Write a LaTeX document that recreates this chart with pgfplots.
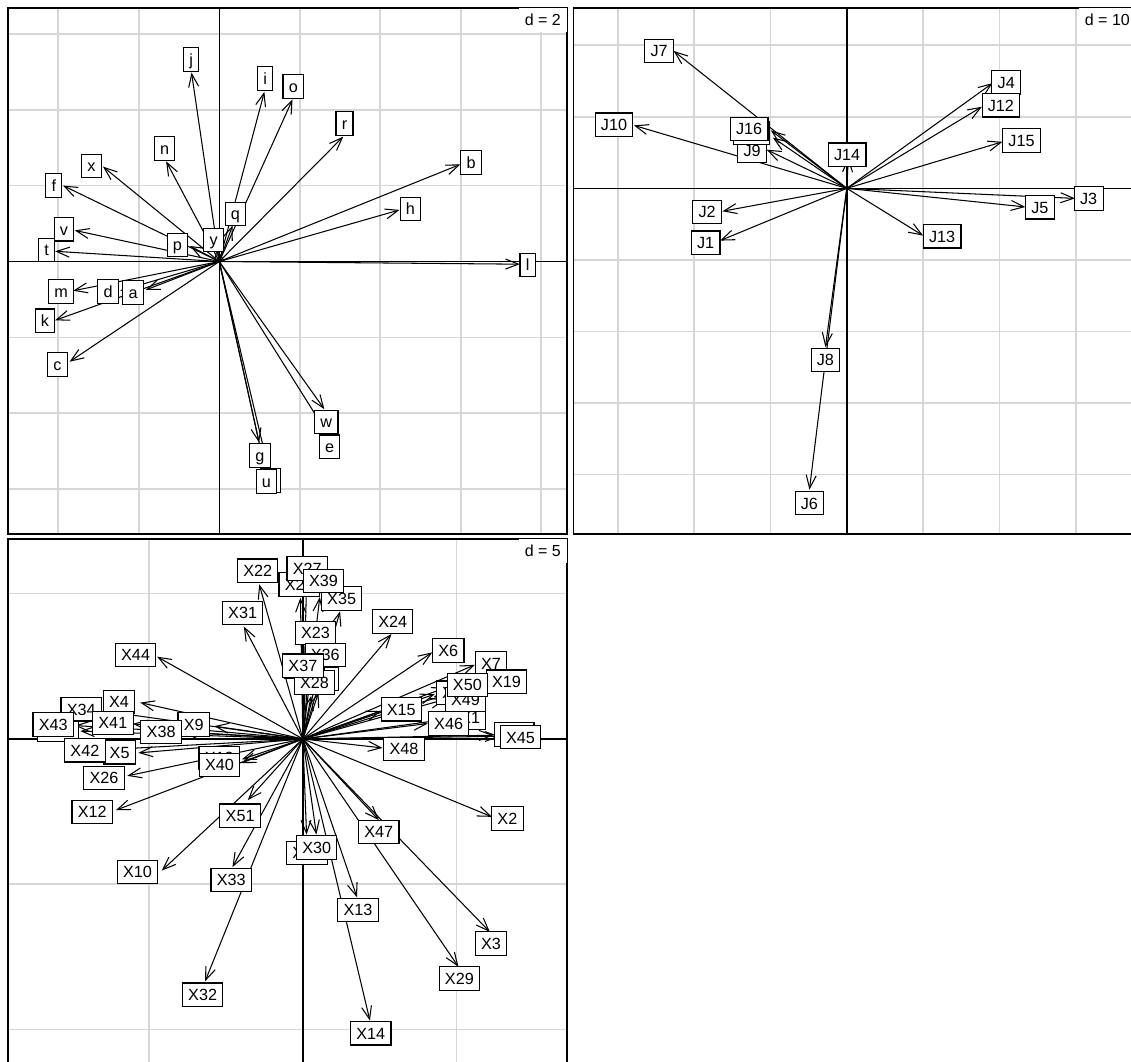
\documentclass[border=0pt]{standalone}
\usepackage{pgfplots}
\pgfplotsset{compat=1.18}
\usepackage{pgfplotstable}
\usepackage{fontspec}
\setmainfont{Liberation Sans}
\usetikzlibrary{arrows.meta}
\definecolor{lightgrid}{RGB}{214,214,214}

\pgfplotstableread{
lab tx ty lx ly
a -1.83 -0.75 -2.14 -0.82
b 5.99 2.56 6.26 2.61
c -3.72 -2.64 -4.02 -2.71
d -2.46 -0.77 -2.76 -0.79
e 2.70 -4.56 2.74 -4.88
f -3.88 2.00 -4.11 2.00
g 0.99 -4.77 1.01 -5.11
h 4.48 1.36 4.75 1.38
i 1.12 4.47 1.14 4.82
j -0.69 4.98 -0.70 5.32
k -4.08 -1.55 -4.33 -1.56
l 7.47 -0.07 7.66 -0.09
m -3.63 -0.77 -3.93 -0.79
n -1.32 2.64 -1.36 2.98
o 1.82 4.27 1.84 4.61
p -0.73 0.41 -1.04 0.44
q 0.33 0.95 0.40 1.25
r 3.08 3.29 3.11 3.64
s 1.22 -5.45 1.28 -5.77
t -4.08 0.27 -4.29 0.30
u 1.13 -5.45 1.17 -5.80
v -3.59 0.82 -3.86 0.85
w 2.61 -3.89 2.66 -4.23
x -2.89 2.50 -3.18 2.52
y -0.07 0.35 -0.14 0.57
}\pA

\pgfplotstableread{
lab tx ty lx ly
J1 -16.6 -7.3 -18.5 -7.6
J2 -16.3 -3.2 -18.3 -3.3
J3 29.9 -1.4 31.7 -1.4
J4 19.1 14.7 20.9 14.8
J5 23.4 -2.6 25.3 -2.65
J6 -4.9 -42.1 -4.9 -44.0
J7 -22.7 19.2 -24.6 19.2
J8 -2.8 -22.2 -2.8 -24.0
J9 -10.5 5.4 -12.4 5.3
J10 -27.9 8.8 -30.5 8.9
J11 -9.7 7.1 -12.5 7.7
J12 17.7 11.4 20.2 11.6
J13 10.0 -6.6 12.5 -6.7
J14 0.2 4.3 0.05 4.7
J15 20.4 6.5 22.9 6.7
J16 -9.95 8.1 -12.8 8.3
}\pB

\pgfplotstableread{
lab tx ty lx ly
X1 4.76 0.69 5.44 0.73
X2 6.15 -2.68 6.65 -2.74
X3 6.08 -6.64 6.12 -7.04
X4 -5.29 1.25 -5.98 1.28
X5 -5.35 -0.48 -5.96 -0.46
X6 4.21 2.98 4.73 3.04
X7 5.59 2.55 6.12 2.60
X8 0.51 1.59 0.65 2.06
X9 -2.88 0.44 -3.55 0.50
X10 -4.59 -4.53 -5.38 -4.58
X11 6.20 0.13 6.88 0.15
X12 -6.08 -2.45 -6.85 -2.51
X13 1.76 -5.45 1.79 -5.88
X14 2.18 -9.69 2.21 -10.13
X15 2.53 0.96 3.20 1.02
X16 0.12 -3.29 0.13 -3.93
X17 4.29 1.54 5.00 1.59
X18 -1.98 -0.70 -2.72 -0.66
X19 5.94 1.94 6.62 1.97
X20 -0.08 4.86 -0.12 5.31
X21 -7.24 0.27 -7.96 0.31
X22 -1.42 5.32 -1.47 5.79
X23 0.27 3.23 0.41 3.64
X24 2.88 3.61 2.92 4.04
X25 0.06 2.05 0.05 2.50
X26 -5.71 -1.27 -6.47 -1.35
X27 0.12 5.43 0.14 5.87
X28 0.27 1.48 0.38 1.94
X29 5.06 -7.84 5.09 -8.24
X30 0.44 -3.29 0.45 -3.74
X31 -1.92 3.87 -1.96 4.33
X32 -3.18 -8.34 -3.26 -8.80
X33 -2.29 -4.41 -2.33 -4.85
X34 -6.49 0.96 -7.21 1.02
X35 1.21 4.39 1.26 4.83
X36 0.53 2.46 0.73 2.89
X37 0.09 2.06 0.00 2.52
X38 -3.94 0.23 -4.61 0.24
X39 0.55 4.88 0.67 5.44
X40 -2.00 -0.83 -2.71 -0.89
X41 -5.53 0.52 -6.18 0.55
X42 -6.41 -0.37 -7.09 -0.39
X43 -7.41 0.46 -8.12 0.50
X44 -4.74 2.83 -5.44 2.89
X45 6.39 0.09 7.08 0.06
X46 4.06 0.53 4.74 0.53
X47 2.47 -2.79 2.47 -3.20
X48 2.59 -0.31 3.29 -0.35
X49 4.62 1.36 5.29 1.36
X50 4.67 1.77 5.35 1.85
X51 -1.79 -2.10 -2.04 -2.64
}\pC

\tikzset{
  dlab/.style={anchor=north east, fill=white, inner xsep=6pt, inner ysep=6pt,
      text height=11.5pt, text depth=0pt, font=\fontsize{16}{16}\selectfont},
}
\pgfplotsset{
  panel/.style={
    scale only axis, width=559pt, height=526pt, anchor=north west,
    axis line style={line width=1.3pt, black},
    major tick length=0pt,
    xticklabels={}, yticklabels={},
    grid=major, grid style={line width=1.7pt, color=lightgrid},
    extra x ticks={0}, extra y ticks={0},
    extra x tick labels={}, extra y tick labels={},
    extra tick style={grid style={line width=1.4pt, black}},
    clip=false,
  },
  arr/.style={black, line width=1.05pt, -{Straight Barb[length=13pt,width=10pt,line width=1.05pt]}},
  labs/.style={only marks, mark=*, mark size=0pt, mark options={draw=none, fill=none},
    nodes near coords, point meta=explicit symbolic,
    nodes near coords style={anchor=center, draw=black, fill=white, line width=1.1pt,
      inner xsep=5.8pt, inner ysep=5.9pt, text height=11.6pt, text depth=0pt,
      font=\fontsize{16.2}{16.2}\selectfont}},
}

\begin{document}
\begin{tikzpicture}
\fill[white] (0,0) rectangle (1131pt,-1061pt);

% Panel 1
\begin{axis}[panel, at={(8pt,-8pt)},
  xmin=-5.25, xmax=8.64, ymin=-7.18, ymax=6.68,
  xtick={-4,-2,2,4,6,8}, ytick={-6,-4,-2,2,4,6}]
  \addplot[arr, quiver={u=\thisrow{tx}, v=\thisrow{ty}}] table[x expr=0, y expr=0] {\pA};
  \addplot[labs] table[x=lx, y=ly, meta=lab] {\pA};
  \node[dlab] at (rel axis cs:1,1) {d = 2};
\end{axis}

% Panel 2
\begin{axis}[panel, at={(573.6pt,-8pt)}, width=562.4pt,
  xmin=-35.8, xmax=37.9, ymin=-48.3, ymax=25.2,
  xtick={-30,-20,-10,10,20,30}, ytick={-40,-30,-20,-10,10,20}]
  \addplot[arr, quiver={u=\thisrow{tx}, v=\thisrow{ty}}] table[x expr=0, y expr=0] {\pB};
  \addplot[labs] table[x=lx, y=ly, meta=lab] {\pB};
  \node[dlab] at (rel axis cs:1,1) {d = 10};
\end{axis}

% Panel 3
\begin{axis}[panel, at={(8pt,-539pt)},
  xmin=-9.59, xmax=8.59, ymin=-11.22, ymax=6.88,
  xtick={-5,5}, ytick={-10,-5,5}]
  \addplot[arr, quiver={u=\thisrow{tx}, v=\thisrow{ty}}] table[x expr=0, y expr=0] {\pC};
  \addplot[labs] table[x=lx, y=ly, meta=lab] {\pC};
  \node[dlab] at (rel axis cs:1,1) {d = 5};
\end{axis}

\pgfresetboundingbox
\path[use as bounding box] (0,0) rectangle (1131pt,-1061pt);
\end{tikzpicture}
\end{document}
